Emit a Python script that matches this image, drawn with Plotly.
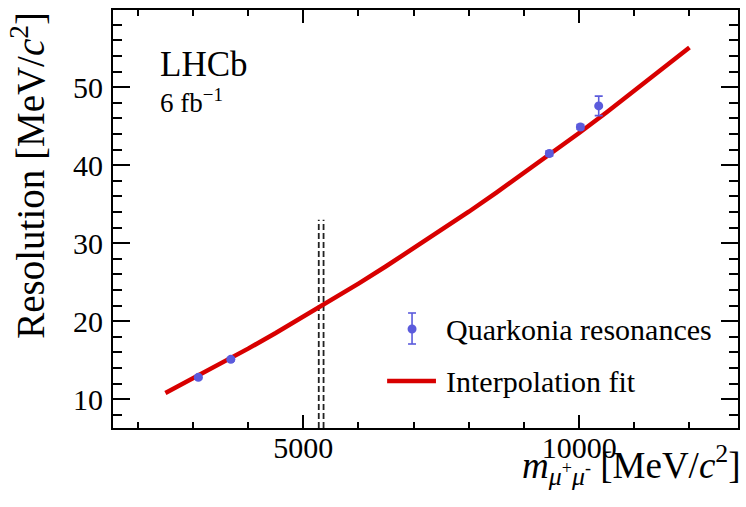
import plotly.graph_objects as go

# ---- data ----
fit_mass = [2500, 3000, 3500, 4000, 4500, 5000, 5500, 6000, 6500, 7000, 7500,
            8000, 8500, 9000, 9500, 10000, 10500, 11000, 11500, 12000]
fit_resolution = [10.8, 12.64, 14.53, 16.48, 18.48, 20.54, 22.66, 24.82, 27.04, 29.32, 31.66,
                  34.03, 36.48, 38.98, 41.52, 44.13, 46.79, 49.5, 52.27, 55.1]

quarkonia_mass = [3097, 3686, 9460, 10023, 10355]
quarkonia_resolution = [12.8, 15.1, 41.5, 44.9, 47.6]
quarkonia_error = [0.2, 0.2, 0.3, 0.3, 1.25]

b_masses = [5280, 5367]
b_line_top = 33.0

x_range = [1550, 12880]
y_range = [6.3, 59.9]
x_tick_values = [5000, 10000]
x_tick_labels = ["5000", "10000"]

FONT = "Liberation Serif"
BLUE = "#5b5bdc"
RED = "#d80000"

fig = go.Figure()

# dashed vertical lines (B0 and Bs masses)
for m in b_masses:
    fig.add_trace(go.Scatter(
        x=[m, m], y=[y_range[0], b_line_top], mode="lines",
        line=dict(color="#222222", width=1.8, dash="6px,3px"),
        showlegend=False, hoverinfo="skip"))

# interpolation fit
fig.add_trace(go.Scatter(
    x=fit_mass, y=fit_resolution, mode="lines",
    line=dict(color=RED, width=4.5),
    name="Interpolation fit", showlegend=False))

# quarkonia points
fig.add_trace(go.Scatter(
    x=quarkonia_mass, y=quarkonia_resolution, mode="markers",
    marker=dict(color=BLUE, size=9),
    error_y=dict(type="data", array=quarkonia_error, color=BLUE, thickness=1.6, width=4),
    name="Quarkonia resonances", showlegend=False))

# ---- plot area geometry (px) for legend / labels ----
L, R, T, B = 113, 6, 10, 79
W, H = 746 - L - R, 507 - T - B

def px(x):
    return (x - L) / W

def py(y):
    return (H + T - y) / H

shapes = []
annotations = []

# manual legend entry 1: marker with error bar
mx, my = 413, 329
shapes.append(dict(type="line", xref="paper", yref="paper", x0=px(mx), x1=px(mx),
                   y0=py(313), y1=py(344), line=dict(color=BLUE, width=1.6)))
for yy in (313, 344):
    shapes.append(dict(type="line", xref="paper", yref="paper", x0=px(mx - 4), x1=px(mx + 4),
                       y0=py(yy), y1=py(yy), line=dict(color=BLUE, width=1.6)))
shapes.append(dict(type="circle", xref="paper", yref="paper",
                   x0=px(mx - 4.5), x1=px(mx + 4.5), y0=py(my + 4.5), y1=py(my - 4.5),
                   fillcolor=BLUE, line=dict(color=BLUE, width=0)))
annotations.append(dict(text="Quarkonia resonances", xref="paper", yref="paper",
                        x=px(445), y=py(my), xanchor="left", yanchor="middle",
                        showarrow=False, font=dict(family=FONT, size=30, color="black")))
# manual legend entry 2: red line
shapes.append(dict(type="line", xref="paper", yref="paper", x0=px(388), x1=px(437),
                   y0=py(381), y1=py(381), line=dict(color=RED, width=4.5)))
annotations.append(dict(text="Interpolation fit", xref="paper", yref="paper",
                        x=px(445), y=py(381), xanchor="left", yanchor="middle",
                        showarrow=False, font=dict(family=FONT, size=30, color="black")))

# LHCb label
annotations.append(dict(text="LHCb", xref="paper", yref="paper", x=px(158), y=py(65),
                        xanchor="left", yanchor="middle", showarrow=False,
                        font=dict(family=FONT, size=35, color="black")))
annotations.append(dict(text="6 fb<sup>−1</sup>", xref="paper", yref="paper", x=px(158), y=py(101),
                        xanchor="left", yanchor="middle", showarrow=False,
                        font=dict(family=FONT, size=27, color="black")))

# axis titles (ROOT style: aligned to axis ends)
annotations.append(dict(text="Resolution [MeV/<i>c</i><sup>2</sup>]", xref="paper", yref="paper",
                        x=px(27), y=1.0, xanchor="center", yanchor="top", textangle=-90,
                        showarrow=False, font=dict(family=FONT, size=39, color="black")))
annotations.append(dict(text="<i>m</i><sub><i>μ</i><sup>+</sup><i>μ</i><sup>-</sup></sub> [MeV/<i>c</i><sup>2</sup>]",
                        xref="paper", yref="paper", x=px(745), y=py(437),
                        xanchor="right", yanchor="top", showarrow=False,
                        font=dict(family=FONT, size=37, color="black")))

axis_common = dict(showline=True, linecolor="black", linewidth=2, mirror="allticks",
                   ticks="inside", tickcolor="black", tickwidth=1.5,
                   showgrid=False, zeroline=False,
                   tickfont=dict(family=FONT, size=30, color="black"))

fig.update_xaxes(range=x_range, tickmode="array", tickvals=x_tick_values, ticktext=x_tick_labels,
                 ticklen=13, ticklabelstandoff=-8,
                 minor=dict(ticks="inside", tickmode="linear", tick0=0, dtick=1000, ticklen=6,
                            tickcolor="black", tickwidth=1.5),
                 **axis_common)
fig.update_yaxes(range=y_range, tick0=0, dtick=10, ticklen=17, ticklabelstandoff=2,
                 minor=dict(ticks="inside", dtick=2, ticklen=9, tickcolor="black", tickwidth=1.5),
                 **axis_common)

fig.update_layout(width=746, height=507, margin=dict(l=L, r=R, t=T, b=B),
                  paper_bgcolor="white", plot_bgcolor="white",
                  shapes=shapes, annotations=annotations, showlegend=False,
                  font=dict(family=FONT, color="black"))

fig.write_html("out.html")
